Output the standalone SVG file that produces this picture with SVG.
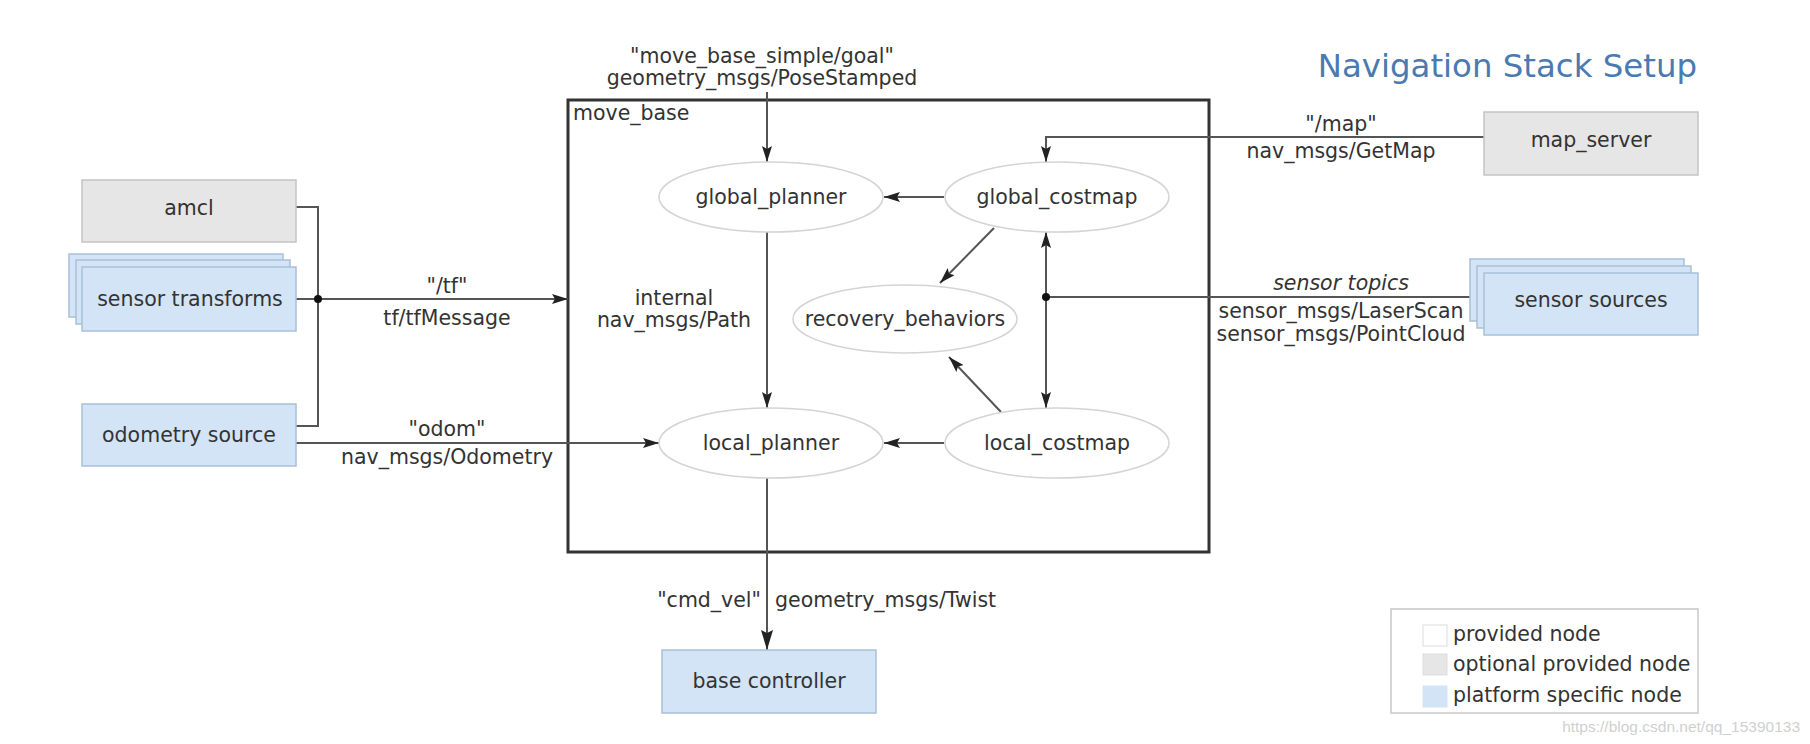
<svg xmlns="http://www.w3.org/2000/svg" width="1810" height="744" viewBox="0 0 1810 744">
<defs>
<style>
text{font-family:"DejaVu Sans","Liberation Sans",sans-serif;font-size:20.5px;fill:#333}
.c{text-anchor:middle}
.gray{fill:#e6e6e6;stroke:#c4c4c4;stroke-width:1.5}
.blue{fill:#d3e4f6;stroke:#a9c0d8;stroke-width:1.5}
.ell{fill:#fff;stroke:#d4d4d4;stroke-width:1.5}
.ln{fill:none;stroke:#555;stroke-width:2}
</style>
<marker id="ah" viewBox="0 0 16 10" refX="16" refY="5" markerWidth="16" markerHeight="10" markerUnits="userSpaceOnUse" orient="auto-start-reverse">
<path d="M0,0 L16,5 L0,10 L3,5 Z" fill="#222"/>
</marker>
<marker id="ahb" viewBox="0 0 20 12" refX="20" refY="6" markerWidth="20" markerHeight="12" markerUnits="userSpaceOnUse" orient="auto">
<path d="M0,0 L20,6 L0,12 L3,6 Z" fill="#222"/>
</marker>
</defs>
<rect width="1810" height="744" fill="#fff"/>

<text x="1697" y="77" style="font-size:32.4px;fill:#4a7ab0;text-anchor:end">Navigation Stack Setup</text>

<g id="move_base">
<rect x="568" y="100" width="641" height="452" fill="none" stroke="#333" stroke-width="3"/>
<text x="573" y="120">move_base</text>
</g>

<g id="connectors">
<path class="ln" d="M296,207 H318 V426 H296"/>
<path class="ln" d="M296,299 H568" marker-end="url(#ah)"/>
<circle cx="318" cy="299" r="4" fill="#111"/>
<path class="ln" d="M296,443 H659" marker-end="url(#ah)"/>
<path class="ln" d="M767,92 V162" marker-end="url(#ah)"/>
<path class="ln" d="M944,197 H884" marker-end="url(#ah)"/>
<path class="ln" d="M767,232 V408" marker-end="url(#ah)"/>
<path class="ln" d="M944,443 H884" marker-end="url(#ah)"/>
<path class="ln" d="M994,228 L940,283" marker-end="url(#ah)"/>
<path class="ln" d="M1001,412 L949,357" marker-end="url(#ah)"/>
<path class="ln" d="M1484,137 H1046 V162" marker-end="url(#ah)"/>
<path class="ln" d="M1046,232 V408" marker-start="url(#ah)" marker-end="url(#ah)"/>
<path class="ln" d="M1470,297 H1046"/>
<circle cx="1046" cy="297" r="4" fill="#111"/>
<path class="ln" d="M767,478 V650" marker-end="url(#ahb)"/>
<text class="c" x="447" y="293">"/tf"</text>
<text class="c" x="447" y="325">tf/tfMessage</text>
<text class="c" x="447" y="436">"odom"</text>
<text class="c" x="447" y="464">nav_msgs/Odometry</text>
<text class="c" x="762" y="63">"move_base_simple/goal"</text>
<text class="c" x="762" y="85">geometry_msgs/PoseStamped</text>
<text class="c" x="674" y="305">internal</text>
<text class="c" x="674" y="327">nav_msgs/Path</text>
<text class="c" x="1341" y="131">"/map"</text>
<text class="c" x="1341" y="158">nav_msgs/GetMap</text>
<text class="c" x="1341" y="290" style="font-style:italic">sensor topics</text>
<text class="c" x="1341" y="318">sensor_msgs/LaserScan</text>
<text class="c" x="1341" y="341">sensor_msgs/PointCloud</text>
<text x="761" y="607" style="text-anchor:end">"cmd_vel"</text>
<text x="775" y="607">geometry_msgs/Twist</text>
</g>

<g id="amcl">
<rect class="gray" x="82" y="180" width="214" height="62"/>
<text class="c" x="189" y="215">amcl</text>
</g>

<g id="sensor_transforms">
<rect class="blue" x="69" y="254" width="214" height="63"/>
<rect class="blue" x="76" y="260" width="214" height="64"/>
<rect class="blue" x="82" y="267" width="214" height="64"/>
<text class="c" x="190" y="306">sensor transforms</text>
</g>

<g id="odometry_source">
<rect class="blue" x="82" y="404" width="214" height="62"/>
<text class="c" x="189" y="442">odometry source</text>
</g>

<g id="global_planner">
<ellipse class="ell" cx="771" cy="197" rx="112" ry="35"/>
<text class="c" x="771" y="204">global_planner</text>
</g>

<g id="global_costmap">
<ellipse class="ell" cx="1057" cy="197" rx="112" ry="35"/>
<text class="c" x="1057" y="204">global_costmap</text>
</g>

<g id="recovery_behaviors">
<ellipse class="ell" cx="905" cy="319" rx="112" ry="34"/>
<text class="c" x="905" y="326">recovery_behaviors</text>
</g>

<g id="local_planner">
<ellipse class="ell" cx="771" cy="443" rx="112" ry="35"/>
<text class="c" x="771" y="450">local_planner</text>
</g>

<g id="local_costmap">
<ellipse class="ell" cx="1057" cy="443" rx="112" ry="35"/>
<text class="c" x="1057" y="450">local_costmap</text>
</g>

<g id="map_server">
<rect class="gray" x="1484" y="112" width="214" height="63"/>
<text class="c" x="1591" y="147">map_server</text>
</g>

<g id="sensor_sources">
<rect class="blue" x="1470" y="259" width="214" height="62"/>
<rect class="blue" x="1477" y="266" width="214" height="62"/>
<rect class="blue" x="1484" y="273" width="214" height="62"/>
<text class="c" x="1591" y="307">sensor sources</text>
</g>

<g id="base_controller">
<rect class="blue" x="662" y="650" width="214" height="63"/>
<text class="c" x="769" y="688">base controller</text>
</g>

<g id="legend">
<rect x="1391" y="609" width="307" height="104" fill="#fff" stroke="#c8c8c8" stroke-width="1.5"/>
<rect x="1423" y="625" width="24" height="21" fill="#fff" stroke="#ddd"/>
<rect x="1423" y="654" width="24" height="21" fill="#e6e6e6" stroke="#ddd"/>
<rect x="1423" y="686" width="24" height="21" fill="#d3e4f6" stroke="#d3e4f6"/>
<text x="1453" y="641">provided node</text>
<text x="1453" y="671">optional provided node</text>
<text x="1453" y="702">platform specific node</text>
</g>

<text x="1800" y="732" style="font-family:'Liberation Sans',sans-serif;font-size:15.5px;fill:#d0d0d0;text-anchor:end">https://blog.csdn.net/qq_15390133</text>
</svg>
